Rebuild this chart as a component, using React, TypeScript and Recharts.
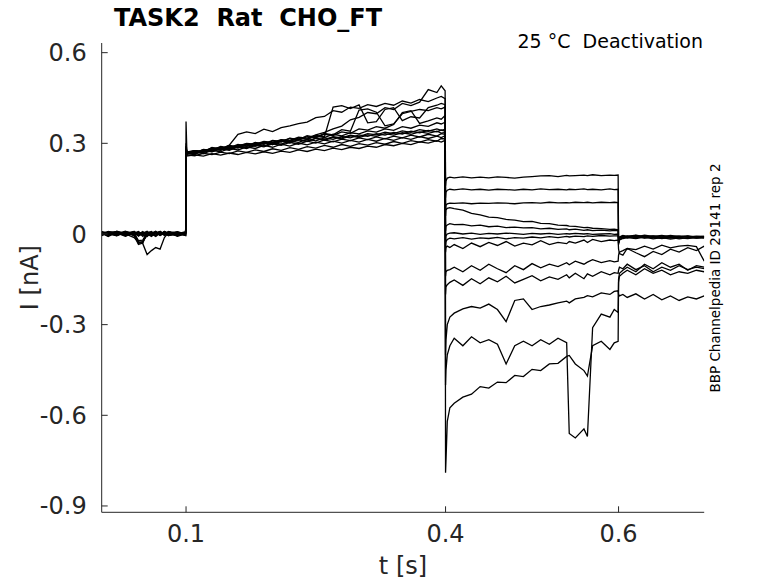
import { LineChart, Line, XAxis, YAxis } from 'recharts'

// time grid (s): holding, prepulse, test step, tail
const tPre = [0.0025, 0.01, 0.02, 0.03, 0.04, 0.045, 0.05, 0.055, 0.06, 0.065, 0.07, 0.075, 0.08, 0.09, 0.0995]
const tPulse = [0.1, 0.101, 0.11, 0.12, 0.13, 0.14, 0.15, 0.16, 0.17, 0.18, 0.19, 0.2, 0.21, 0.22, 0.23, 0.24, 0.25,
  0.26, 0.27, 0.28, 0.29, 0.3, 0.31, 0.32, 0.33, 0.34, 0.35, 0.36, 0.37, 0.38, 0.39, 0.395, 0.3995]
const tTest = [0.4, 0.4005, 0.402, 0.405, 0.41, 0.42, 0.43, 0.44, 0.45, 0.46, 0.47, 0.48, 0.49, 0.5, 0.51, 0.52, 0.53,
  0.54, 0.543, 0.55, 0.56, 0.564, 0.57, 0.58, 0.59, 0.595, 0.5995]
const tTail = [0.6, 0.601, 0.605, 0.61, 0.62, 0.63, 0.64, 0.65, 0.66, 0.67, 0.68, 0.69, 0.699]

// current sweeps (nA), one row per protocol phase
const sweep1 = [
  0.008, -0.005, 0.009, 0.001, 0.006, -0.007, 0.003, 0.009, -0.005, 0.006, 0.0, 0.008, -0.003, 0.005, 0.003,
  0.372, 0.268, 0.276, 0.274, 0.285, 0.282, 0.293, 0.289, 0.3, 0.297, 0.306, 0.303, 0.312, 0.31, 0.32, 0.317, 0.328, 0.336, 0.348, 0.357, 0.378, 0.386, 0.402, 0.398, 0.418, 0.412, 0.432, 0.425, 0.436, 0.478, 0.468, 0.49, 0.474,
  0.16, 0.175, 0.185, 0.188, 0.186, 0.189, 0.186, 0.188, 0.186, 0.189, 0.187, 0.185, 0.188, 0.19, 0.192, 0.193, 0.19, 0.194, 0.192, 0.193, 0.195, 0.193, 0.196, 0.193, 0.195, 0.194, 0.195,
  -0.03, -0.015, -0.01, -0.008, -0.012, -0.009, -0.013, -0.01, -0.014, -0.011, -0.009, -0.013, -0.01,
]
const sweep2 = [
  -0.006, 0.008, 0.001, 0.009, -0.004, 0.006, -0.008, 0.003, 0.008, -0.005, 0.006, 0.0, 0.008, -0.003, 0.005,
  0.3, 0.272, 0.276, 0.271, 0.286, 0.28, 0.294, 0.33, 0.338, 0.332, 0.347, 0.339, 0.352, 0.358, 0.365, 0.37, 0.385, 0.389, 0.408, 0.403, 0.42, 0.416, 0.428, 0.422, 0.432, 0.426, 0.44, 0.433, 0.445, 0.438, 0.45, 0.455, 0.448,
  0.12, 0.138, 0.145, 0.148, 0.146, 0.149, 0.146, 0.148, 0.145, 0.148, 0.147, 0.145, 0.148, 0.146, 0.149, 0.147, 0.148, 0.146, 0.148, 0.147, 0.149, 0.147, 0.148, 0.146, 0.149, 0.147, 0.148,
  -0.035, -0.02, -0.012, -0.006, -0.01, -0.004, -0.008, -0.005, -0.009, -0.006, -0.01, -0.007, -0.008,
]
const sweep3 = [
  0.003, -0.008, 0.006, -0.003, 0.008, 0.0, 0.005, -0.006, 0.003, 0.009, -0.005, 0.003, 0.006, -0.008, 0.001,
  0.29, 0.265, 0.272, 0.27, 0.282, 0.278, 0.29, 0.286, 0.297, 0.293, 0.304, 0.3, 0.31, 0.306, 0.318, 0.314, 0.326, 0.322, 0.42, 0.425, 0.415, 0.427, 0.368, 0.372, 0.412, 0.418, 0.375, 0.388, 0.384, 0.418, 0.426, 0.432, 0.428,
  0.08, 0.095, 0.1, 0.102, 0.101, 0.103, 0.1, 0.102, 0.101, 0.103, 0.102, 0.1, 0.103, 0.104, 0.102, 0.105, 0.103, 0.104, 0.103, 0.105, 0.104, 0.105, 0.103, 0.105, 0.104, 0.105, 0.104,
  -0.03, -0.02, -0.015, -0.012, -0.015, -0.01, -0.016, -0.012, -0.017, -0.013, -0.015, -0.011, -0.014,
]
const sweep4 = [
  0.006, 0.0, -0.006, 0.008, 0.002, -0.005, 0.006, 0.0, -0.008, 0.003, 0.008, -0.003, 0.001, 0.006, -0.005,
  0.285, 0.27, 0.268, 0.28, 0.277, 0.29, 0.285, 0.296, 0.291, 0.303, 0.298, 0.31, 0.306, 0.317, 0.312, 0.325, 0.32, 0.333, 0.328, 0.345, 0.34, 0.41, 0.414, 0.403, 0.358, 0.364, 0.398, 0.406, 0.412, 0.408, 0.418, 0.414, 0.42,
  0.06, 0.08, 0.085, 0.087, 0.084, 0.079, 0.068, 0.063, 0.056, 0.054, 0.048, 0.046, 0.041, 0.042, 0.035, 0.034, 0.029, 0.028, 0.026, 0.025, 0.021, 0.022, 0.019, 0.018, 0.015, 0.016, 0.014,
  -0.025, -0.015, -0.01, -0.013, -0.008, -0.014, -0.01, -0.015, -0.011, -0.016, -0.012, -0.014, -0.012,
]
const sweep5 = [
  -0.003, 0.006, 0.008, -0.005, 0.003, -0.022, -0.02, 0.005, 0.006, 0.0, 0.008, -0.005, 0.003, 0.008, -0.003,
  0.283, 0.267, 0.274, 0.271, 0.281, 0.287, 0.283, 0.294, 0.29, 0.301, 0.297, 0.308, 0.304, 0.316, 0.311, 0.322, 0.318, 0.33, 0.326, 0.338, 0.333, 0.348, 0.344, 0.355, 0.35, 0.362, 0.402, 0.408, 0.366, 0.374, 0.384, 0.38, 0.392,
  0.01, 0.025, 0.03, 0.034, 0.031, 0.032, 0.027, 0.029, 0.024, 0.026, 0.021, 0.023, 0.02, 0.021, 0.017, 0.019, 0.015, 0.017, 0.014, 0.016, 0.012, 0.014, 0.011, 0.013, 0.01, 0.012, 0.011,
  -0.02, -0.012, -0.006, -0.01, -0.005, -0.011, -0.007, -0.012, -0.008, -0.01, -0.006, -0.011, -0.009,
]
const sweep6 = [
  0.008, 0.003, -0.005, 0.006, -0.003, -0.025, -0.028, 0.003, 0.003, -0.006, 0.006, 0.003, -0.005, 0.0, 0.008,
  0.28, 0.27, 0.268, 0.279, 0.276, 0.286, 0.282, 0.293, 0.298, 0.294, 0.305, 0.3, 0.311, 0.307, 0.318, 0.313, 0.324, 0.319, 0.33, 0.325, 0.335, 0.331, 0.341, 0.337, 0.348, 0.343, 0.355, 0.35, 0.36, 0.356, 0.368, 0.364, 0.37,
  -0.02, -0.006, 0.0, 0.003, 0.004, 0.0, 0.003, -0.001, 0.002, 0.0, 0.003, 0.001, -0.001, 0.002, 0.0, 0.002, -0.001, 0.001, 0.0, 0.002, 0.0, 0.001, -0.001, 0.0, 0.001, -0.001, 0.0,
  -0.018, -0.01, -0.005, -0.008, -0.004, -0.009, -0.006, -0.01, -0.005, -0.009, -0.007, -0.01, -0.008,
]
const sweep7 = [
  0.0, 0.006, 0.003, -0.008, 0.005, -0.032, -0.024, -0.005, -0.003, 0.006, -0.005, 0.008, 0.0, -0.006, 0.003,
  0.278, 0.268, 0.275, 0.272, 0.283, 0.278, 0.289, 0.285, 0.295, 0.291, 0.301, 0.296, 0.307, 0.302, 0.312, 0.307, 0.317, 0.312, 0.322, 0.318, 0.327, 0.322, 0.332, 0.328, 0.337, 0.332, 0.341, 0.336, 0.345, 0.34, 0.348, 0.343, 0.346,
  -0.04, -0.025, -0.018, -0.014, -0.016, -0.012, -0.017, -0.013, -0.015, -0.011, -0.016, -0.012, -0.014, -0.01, -0.013, -0.009, -0.012, -0.008, -0.01, -0.007, -0.009, -0.006, -0.008, -0.005, -0.007, -0.006, -0.006,
  -0.02, -0.012, -0.008, -0.012, -0.007, -0.013, -0.009, -0.014, -0.01, -0.012, -0.008, -0.013, -0.01,
]
const sweep8 = [
  0.003, -0.006, 0.008, 0.0, -0.012, -0.028, -0.032, -0.068, -0.055, -0.045, -0.05, -0.012, 0.006, -0.003, 0.005,
  0.29, 0.266, 0.263, 0.277, 0.273, 0.284, 0.279, 0.29, 0.286, 0.296, 0.291, 0.302, 0.297, 0.307, 0.303, 0.313, 0.308, 0.318, 0.313, 0.323, 0.318, 0.328, 0.323, 0.332, 0.327, 0.336, 0.331, 0.34, 0.335, 0.343, 0.338, 0.344, 0.34,
  -0.06, -0.045, -0.04, -0.045, -0.035, -0.048, -0.03, -0.042, -0.028, -0.038, -0.025, -0.04, -0.03, -0.036, -0.022, -0.035, -0.028, -0.032, -0.025, -0.03, -0.02, -0.028, -0.018, -0.025, -0.02, -0.022, -0.02,
  -0.05, -0.065, -0.07, -0.048, -0.062, -0.075, -0.058, -0.068, -0.05, -0.06, -0.045, -0.055, -0.04,
]
const sweep9 = [
  -0.005, 0.003, 0.0, 0.006, -0.006, -0.035, -0.03, 0.003, -0.006, 0.008, 0.0, -0.003, 0.006, 0.0, -0.005,
  0.286, 0.27, 0.276, 0.27, 0.283, 0.278, 0.29, 0.285, 0.296, 0.291, 0.302, 0.296, 0.307, 0.302, 0.312, 0.306, 0.316, 0.31, 0.32, 0.315, 0.325, 0.319, 0.328, 0.323, 0.332, 0.327, 0.335, 0.33, 0.338, 0.333, 0.34, 0.334, 0.336,
  -0.14, -0.125, -0.12, -0.118, -0.11, -0.125, -0.105, -0.12, -0.1, -0.115, -0.128, -0.105, -0.118, -0.098, -0.112, -0.1, -0.108, -0.095, -0.102, -0.09, -0.1, -0.093, -0.085, -0.095, -0.088, -0.092, -0.09,
  -0.07, -0.06, -0.055, -0.048, -0.052, -0.04, -0.05, -0.037, -0.046, -0.04, -0.038, -0.042, -0.09,
]
const sweep10 = [
  0.006, -0.003, 0.005, -0.006, 0.003, 0.008, -0.003, 0.006, 0.0, -0.008, 0.003, 0.006, -0.005, 0.003, 0.0,
  0.282, 0.268, 0.265, 0.276, 0.272, 0.282, 0.277, 0.288, 0.283, 0.293, 0.288, 0.298, 0.293, 0.303, 0.297, 0.307, 0.301, 0.311, 0.305, 0.314, 0.309, 0.318, 0.312, 0.321, 0.315, 0.324, 0.318, 0.327, 0.321, 0.33, 0.324, 0.332, 0.33,
  -0.2, -0.175, -0.168, -0.16, -0.152, -0.17, -0.148, -0.165, -0.145, -0.158, -0.14, -0.162, -0.15, -0.138, -0.155, -0.142, -0.15, -0.135, -0.145, -0.13, -0.148, -0.132, -0.14, -0.125, -0.135, -0.128, -0.13,
  -0.12, -0.11, -0.115, -0.1, -0.118, -0.105, -0.125, -0.11, -0.12, -0.105, -0.118, -0.11, -0.115,
]
const sweep11 = [
  0.003, 0.008, -0.003, 0.003, 0.008, -0.005, 0.0, 0.006, -0.003, 0.003, 0.008, 0.0, -0.005, 0.006, 0.003,
  0.28, 0.265, 0.271, 0.266, 0.277, 0.272, 0.283, 0.278, 0.288, 0.283, 0.293, 0.287, 0.297, 0.291, 0.301, 0.295, 0.304, 0.298, 0.307, 0.301, 0.31, 0.304, 0.313, 0.307, 0.316, 0.31, 0.319, 0.313, 0.322, 0.316, 0.324, 0.319, 0.325,
  -0.4, -0.35, -0.3, -0.275, -0.262, -0.248, -0.24, -0.245, -0.232, -0.25, -0.29, -0.22, -0.215, -0.25, -0.24, -0.235, -0.228, -0.222, -0.228, -0.215, -0.21, -0.204, -0.208, -0.195, -0.2, -0.19, -0.188,
  -0.2, -0.205, -0.2, -0.21, -0.198, -0.215, -0.2, -0.218, -0.205, -0.22, -0.208, -0.215, -0.205,
]
const sweep12 = [
  -0.003, 0.006, -0.005, 0.008, 0.0, 0.006, -0.003, -0.008, 0.006, 0.0, -0.003, 0.008, 0.003, -0.005, 0.003,
  0.278, 0.262, 0.259, 0.267, 0.263, 0.271, 0.266, 0.275, 0.27, 0.278, 0.273, 0.282, 0.277, 0.286, 0.28, 0.289, 0.284, 0.293, 0.287, 0.296, 0.29, 0.299, 0.294, 0.302, 0.297, 0.306, 0.3, 0.309, 0.304, 0.312, 0.307, 0.316, 0.315,
  -0.5, -0.45, -0.4, -0.37, -0.345, -0.37, -0.34, -0.36, -0.35, -0.365, -0.43, -0.37, -0.355, -0.37, -0.35, -0.365, -0.345, -0.36, -0.66, -0.675, -0.645, -0.67, -0.31, -0.265, -0.275, -0.25, -0.26,
  -0.15, -0.13, -0.12, -0.11, -0.125, -0.1, -0.115, -0.095, -0.11, -0.1, -0.12, -0.105, -0.11,
]
const sweep13 = [
  0.005, 0.0, 0.008, -0.003, 0.006, 0.0, 0.008, -0.005, 0.003, 0.006, -0.003, 0.0, 0.008, 0.003, -0.003,
  0.276, 0.258, 0.262, 0.258, 0.266, 0.261, 0.268, 0.263, 0.27, 0.265, 0.272, 0.267, 0.274, 0.27, 0.278, 0.273, 0.281, 0.276, 0.284, 0.279, 0.287, 0.283, 0.291, 0.287, 0.296, 0.292, 0.3, 0.296, 0.305, 0.301, 0.309, 0.304, 0.31,
  -0.79, -0.75, -0.62, -0.575, -0.56, -0.54, -0.53, -0.505, -0.51, -0.49, -0.492, -0.468, -0.472, -0.448, -0.452, -0.43, -0.428, -0.405, -0.402, -0.43, -0.452, -0.47, -0.37, -0.355, -0.382, -0.36, -0.355,
  -0.16, -0.14, -0.13, -0.12, -0.135, -0.115, -0.13, -0.12, -0.135, -0.125, -0.13, -0.12, -0.125,
]

const xTicks = [0.1, 0.4, 0.6]
const yTicks = [-0.9, -0.6, -0.3, 0, 0.3, 0.6]

const T = [...tPre, ...tPulse, ...tTest, ...tTail]
const SWEEPS = [sweep1, sweep2, sweep3, sweep4, sweep5, sweep6, sweep7, sweep8, sweep9, sweep10, sweep11, sweep12, sweep13]

const data = T.map((t, i) => {
  const row: Record<string, number> = { t }
  SWEEPS.forEach((s, k) => { row['s' + k] = s[i] })
  return row
})

const FONT = "'DejaVu Sans', sans-serif"
const AX = '#262626'

export default function App() {
  return (
    <div style={{ position: 'absolute', left: 0, top: 0, width: 778, height: 583, background: '#fff' }}>
      <LineChart width={778} height={583} data={data} margin={{ top: 43, right: 73.8, bottom: 40.7, left: 41.7 }}>
        <XAxis
          dataKey="t" type="number" domain={[0.0025, 0.699]} allowDataOverflow ticks={xTicks} interval={0}
          height={30} tickSize={-6} tickMargin={19} stroke={AX}
          tick={{ fontFamily: FONT, fontSize: 24, fill: AX }}
        />
        <YAxis
          type="number" domain={[-0.921, 0.632]} allowDataOverflow ticks={yTicks} interval={0}
          width={60} tickSize={-6} tickMargin={21} stroke={AX}
          tick={{ fontFamily: FONT, fontSize: 24, fill: AX }}
        />
        {SWEEPS.map((_, k) => (
          <Line key={k} type="linear" dataKey={'s' + k} stroke="#000" strokeWidth={1.3}
            dot={false} isAnimationActive={false} />
        ))}
      </LineChart>
      <svg width={778} height={583} style={{ position: 'absolute', left: 0, top: 0, pointerEvents: 'none' }}>
        <text x={114} y={26} fontFamily={FONT} fontSize={24} fontWeight="bold" fill="#000" style={{ whiteSpace: 'pre' }}>
          TASK2  Rat  CHO_FT
        </text>
        <text x={703} y={48} textAnchor="end" fontFamily={FONT} fontSize={19} fill="#000" style={{ whiteSpace: 'pre' }}>
          25 °C  Deactivation
        </text>
        <text x={403} y={574} textAnchor="middle" fontFamily={FONT} fontSize={24} fill={AX}>t [s]</text>
        <text transform="translate(38 277.6) rotate(-90)" textAnchor="middle" fontFamily={FONT} fontSize={24} fill={AX}>
          I [nA]
        </text>
        <text transform="translate(720 278) rotate(-90)" textAnchor="middle" fontFamily={FONT} fontSize={13.5} fill="#000">
          BBP Channelpedia ID 29141 rep 2
        </text>
      </svg>
    </div>
  )
}
